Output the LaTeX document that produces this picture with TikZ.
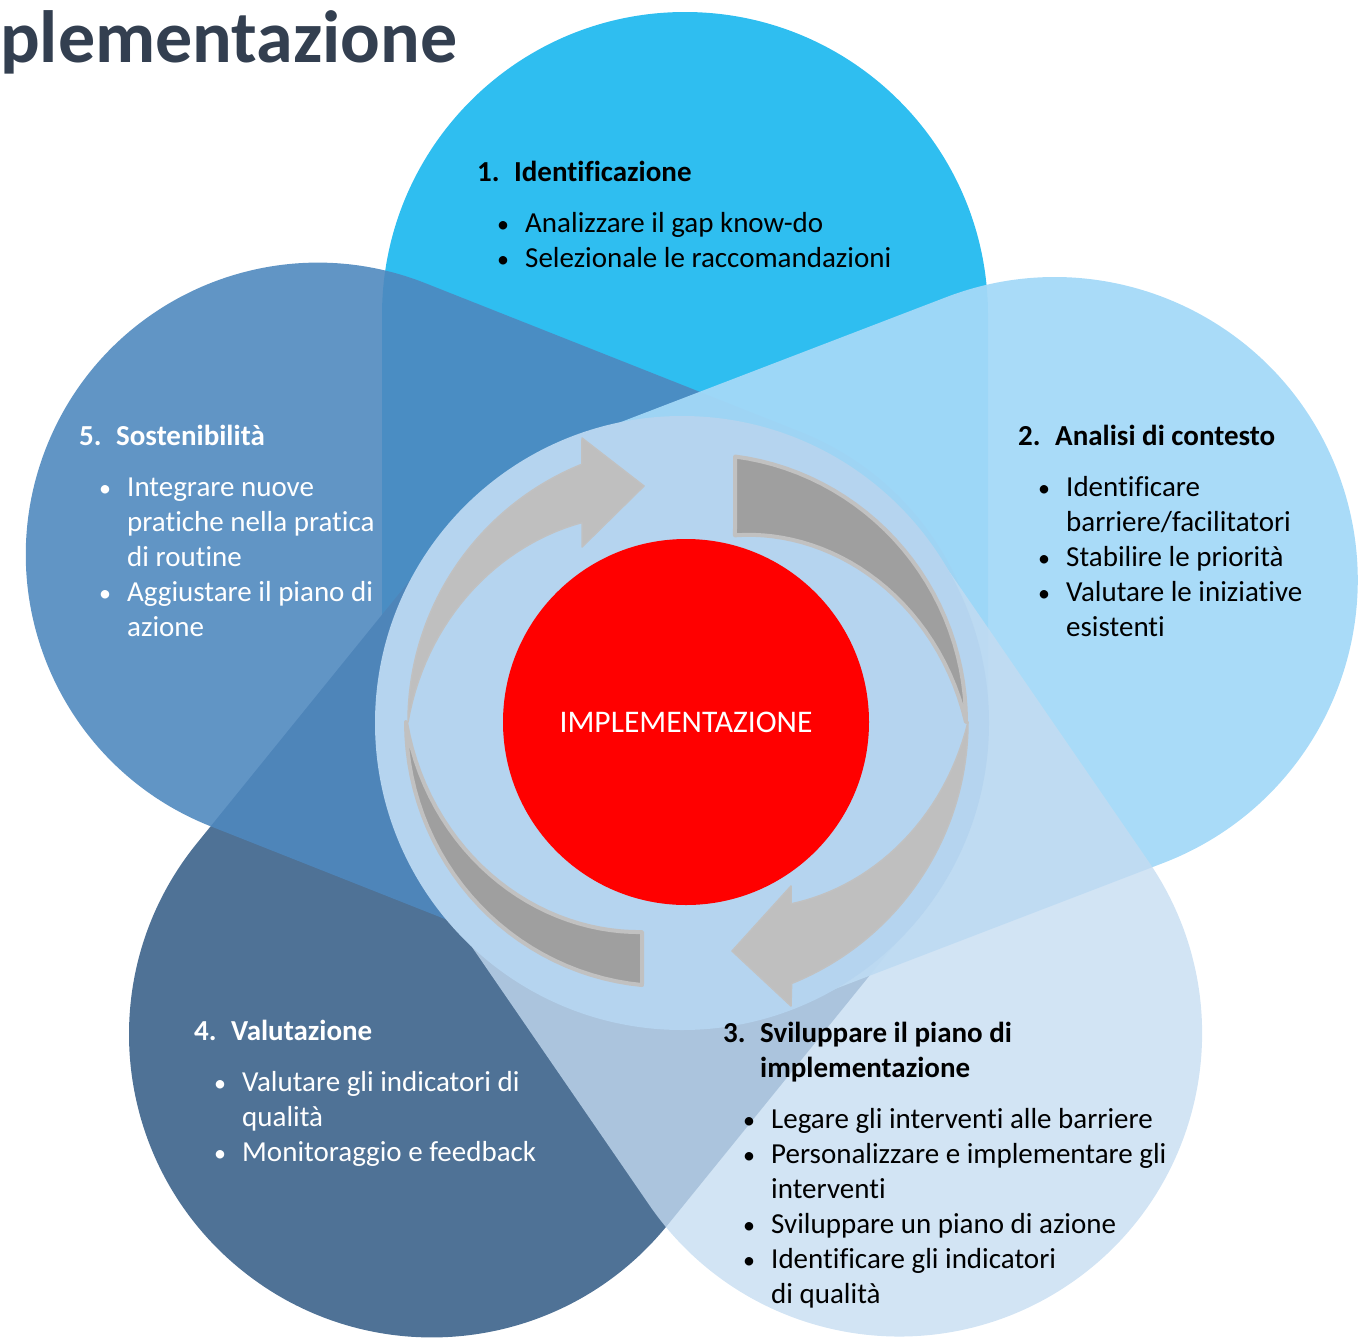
\documentclass[tikz,border=0pt]{standalone}
\usepackage{fontspec}
\setmainfont{Carlito}[Ligatures={NoCommon}]
\definecolor{titlegrey}{RGB}{51,63,80}
\definecolor{petalone}{RGB}{47,190,240}
\definecolor{petaltwo}{RGB}{164,217,248}
\definecolor{petalthree}{RGB}{197,220,241}
\definecolor{petalfour}{RGB}{79,114,150}
\definecolor{petalfive}{RGB}{78,136,190}
\definecolor{hubblue}{RGB}{181,212,239}
\definecolor{arrowlight}{RGB}{191,191,191}
\definecolor{arrowdark}{RGB}{159,159,159}
\definecolor{arrowedge}{RGB}{193,193,193}

\newcommand{\phead}[2]{\textbf{\makebox[37pt][l]{#1}#2}}
\newcommand{\pheadmore}[1]{\hspace*{37pt}\textbf{#1}}
\newcommand{\pitem}[1]{\hspace*{20pt}\makebox[28pt][l]{\fontsize{24}{24}\selectfont\textbullet}#1}
\newcommand{\pmore}[1]{\hspace*{48pt}#1}

\begin{document}
\begin{tikzpicture}[x=1pt,y=1pt,
    ptext/.style={anchor=base west, inner sep=0pt, font=\fontsize{29}{35}\selectfont},
    lightarrow/.style={fill=arrowlight, draw=arrowedge, line width=1.5pt, line join=round},
    darkband/.style={fill=arrowdark, draw=arrowedge, line width=4pt, line join=round}]
  \useasboundingbox (0,0) rectangle (1362,-1341);

  % petals: inner centre / angle / length / half width / colour / opacity
  \foreach \ox/\oy/\ang/\len/\wid/\col/\op in {685/-722/90/407/303/petalone/1,
      685/-722/231/402/303/petalfour/1, 692.5/-703/158.4/403/292/petalfive/.89,
      685/-722/21/396/303/petaltwo/.94, 685/-722/-55.5/378/303/petalthree/.78}
    \fill[fill=\col, fill opacity=\op, shift={(\ox,\oy)}, rotate=\ang]
      (0,\wid) -- (\len,\wid) arc[start angle=90, end angle=-90, radius=\wid]
      -- (0,-\wid) arc[start angle=-90, end angle=-270, radius=\wid] -- cycle;

  \node[circle, fill=hubblue, minimum size=614pt, inner sep=0pt] (hub) at (682,-723) {};

  % cycle arrows
  \begin{scope}[shift={(686,-722)}]
    \draw[darkband] plot[domain=0:79.5, samples=30] (\x:{280-10*(\x/79.5)^2}) -- (75.3:193)
      -- plot[domain=0:75.3, samples=30] ({75.3-\x}:{193+\x*87/75.3}) -- cycle;
    \draw[darkband] plot[domain=180:260.5, samples=30] (\x:{280-13.3*((\x-180)/80.5)^2}) -- (258.2:214.6)
      -- plot[domain=0:78.2, samples=30] ({258.2-\x}:{214.6+\x*65.4/78.2}) -- cycle;
    \draw[lightarrow] (180:278) arc[start angle=180, end angle=112, radius=278]
      -- (-104,284) -- (-42,236) -- (-104,175) -- (-104,199)
      -- plot[domain=117.6:180, samples=30] (\x:{225+(\x-117.6)*53/62.4}) -- cycle;
    \draw[lightarrow] (0:282) arc[start angle=0, end angle=-68, radius=282]
      -- (105,-284) -- (46,-229) -- (105,-164) -- (105,-182)
      -- plot[domain=-60:0, samples=30] (\x:{210+(\x+60)*72/60}) -- cycle;
  \end{scope}

  \node[circle, fill=red, minimum size=366pt, inner sep=0pt, text=white,
        font=\fontsize{31.5}{37}\selectfont] (core) at (686,-722) {IMPLEMENTAZIONE};

  \node[anchor=base west, inner sep=0pt, text=titlegrey,
        font=\fontsize{74}{80}\selectfont\bfseries] (title) at (0,-62) {plementazione};

  \node[ptext, text=black] (ident) at (477,-181) {\begin{tabular}[t]{@{}l@{}}
    \phead{1.}{Identificazione}\\[16pt]
    \pitem{Analizzare il gap know-do}\\
    \pitem{Selezionale le raccomandazioni}\end{tabular}};
  \node[ptext, text=black] (context) at (1018,-445) {\begin{tabular}[t]{@{}l@{}}
    \phead{2.}{Analisi di contesto}\\[16pt]
    \pitem{Identificare}\\
    \pmore{barriere/facilitatori}\\
    \pitem{Stabilire le priorità}\\
    \pitem{Valutare le iniziative}\\
    \pmore{esistenti}\end{tabular}};
  \node[ptext, text=black] (plan) at (723,-1042) {\begin{tabular}[t]{@{}l@{}}
    \phead{3.}{Sviluppare il piano di}\\
    \pheadmore{implementazione}\\[16pt]
    \pitem{Legare gli interventi alle barriere}\\
    \pitem{Personalizzare e implementare gli}\\
    \pmore{interventi}\\
    \pitem{Sviluppare un piano di azione}\\
    \pitem{Identificare gli indicatori}\\
    \pmore{di qualità}\end{tabular}};
  \node[ptext, text=white] (evaluation) at (194,-1040) {\begin{tabular}[t]{@{}l@{}}
    \phead{4.}{Valutazione}\\[16pt]
    \pitem{Valutare gli indicatori di}\\
    \pmore{qualità}\\
    \pitem{Monitoraggio e feedback}\end{tabular}};
  \node[ptext, text=white] (sustain) at (79,-445) {\begin{tabular}[t]{@{}l@{}}
    \phead{5.}{Sostenibilità}\\[16pt]
    \pitem{Integrare nuove}\\
    \pmore{pratiche nella pratica}\\
    \pmore{di routine}\\
    \pitem{Aggiustare il piano di}\\
    \pmore{azione}\end{tabular}};
\end{tikzpicture}
\end{document}
